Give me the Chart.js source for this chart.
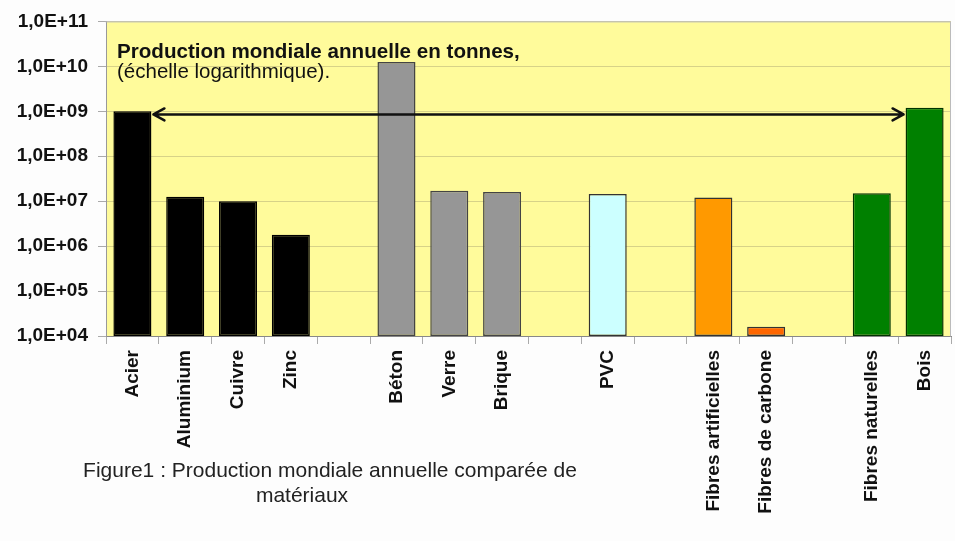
<!DOCTYPE html>
<html>
<head>
<meta charset="utf-8">
<script src="https://cdn.jsdelivr.net/npm/chart.js@4.4.1/dist/chart.umd.min.js"></script>
<style>
  html, body { margin: 0; padding: 0; background: #fdfdfd; }
  #wrap { width: 955px; height: 541px; }
</style>
</head>
<body>
<div id="wrap"><canvas id="chart" width="955" height="541"></canvas></div>
<script>
// categories ('' = empty slot between material groups)
const categories = ['Acier', 'Aluminium', 'Cuivre', 'Zinc', '', 'Béton', 'Verre', 'Brique', '', 'PVC', '',
  'Fibres artificielles', 'Fibres de carbone', '', 'Fibres naturelles', 'Bois'];
// tonnes / year
const production = [1.0e9, 1.25e7, 1.0e7, 1.8e6, null, 1.25e10, 1.7e7, 1.6e7, null, 1.45e7, null,
  1.2e7, 1.6e4, null, 1.5e7, 1.2e9];
const yTicks = [1e4, 1e5, 1e6, 1e7, 1e8, 1e9, 1e10, 1e11];
const arrowLevel = 8.5e8;
const noteTitle = 'Production mondiale annuelle en tonnes,';
const noteSub = '(échelle logarithmique).';
const captionLines = ['Figure1 : Production mondiale annuelle comparée de', 'matériaux'];

const fillColors = ['#000000', '#000000', '#000000', '#000000', null, '#969696', '#969696', '#969696', null,
  '#ccffff', null, '#ff9900', '#ff6600', null, '#008000', '#008000'];
const lineColors = ['#000000', '#000000', '#000000', '#000000', null, '#444444', '#444444', '#444444', null,
  '#333333', null, '#333333', '#333333', null, '#003300', '#003300'];

const FONT = "'Liberation Sans', Arial, sans-serif";

const decor = {
  id: 'decor',
  beforeDraw(chart) {
    const { ctx, chartArea: a } = chart;
    ctx.save();
    ctx.fillStyle = '#fdfdfd';
    ctx.fillRect(0, 0, chart.width, chart.height);
    ctx.fillStyle = '#fffb9b';
    ctx.fillRect(a.left, a.top, a.right - a.left, a.bottom - a.top);
    ctx.restore();
  },
  afterDatasetsDraw(chart) {
    const { ctx, chartArea: a } = chart;
    const y = chart.scales.y.getPixelForValue(arrowLevel);
    const bars = chart.getDatasetMeta(0).data;
    const first = bars[0], last = bars[bars.length - 1];
    const x1 = first.x + first.width / 2 + 2;
    const x2 = last.x - last.width / 2 - 2;
    ctx.save();
    ctx.strokeStyle = '#111';
    ctx.lineWidth = 2.5;
    ctx.lineCap = 'round';
    ctx.lineJoin = 'round';
    ctx.beginPath();
    ctx.moveTo(x1, y); ctx.lineTo(x2, y);
    ctx.moveTo(x1 + 11, y - 6); ctx.lineTo(x1, y); ctx.lineTo(x1 + 11, y + 6);
    ctx.moveTo(x2 - 11, y - 6); ctx.lineTo(x2, y); ctx.lineTo(x2 - 11, y + 6);
    ctx.stroke();

    // plot frame (top / right)
    ctx.strokeStyle = '#bbbbbb';
    ctx.lineWidth = 1;
    ctx.beginPath();
    ctx.moveTo(a.left, a.top + 0.5); ctx.lineTo(a.right - 0.5, a.top + 0.5); ctx.lineTo(a.right - 0.5, a.bottom);
    ctx.stroke();

    ctx.fillStyle = '#111';
    ctx.textAlign = 'left';
    ctx.textBaseline = 'alphabetic';
    ctx.font = 'bold 20.6px ' + FONT;
    ctx.fillText(noteTitle, a.left + 11, a.top + 37);
    ctx.font = '20.5px ' + FONT;
    ctx.fillText(noteSub, a.left + 11, a.top + 57);

    ctx.fillStyle = '#222';
    ctx.font = '21px ' + FONT;
    ctx.textAlign = 'center';
    ctx.fillText(captionLines[0], 330, 477);
    ctx.fillText(captionLines[1], 302, 502);
    ctx.restore();
  }
};

const ctx = document.getElementById('chart').getContext('2d');
const chart = new Chart(ctx, {
  type: 'bar',
  data: {
    labels: categories,
    datasets: [{
      data: production,
      backgroundColor: fillColors,
      borderColor: lineColors,
      borderWidth: 1.5,
      borderSkipped: false,
      barPercentage: 0.72,
      categoryPercentage: 1
    }]
  },
  options: {
    responsive: false,
    devicePixelRatio: 1,
    animation: false,
    layout: { padding: { top: 20, right: 4, left: 0, bottom: 0 } },
    plugins: { legend: { display: false }, tooltip: { enabled: false } },
    scales: {
      x: {
        offset: true,
        grid: { drawOnChartArea: false, offset: true, tickLength: 8, color: '#aaaaaa' },
        border: { color: '#888888' },
        ticks: {
          autoSkip: false, maxRotation: 90, minRotation: 90, padding: 6,
          color: '#111', font: { family: FONT, size: 19, weight: 'bold' }
        },
        afterFit(scale) { scale.height = 205; }
      },
      y: {
        type: 'logarithmic',
        min: 1e4,
        max: 1e11,
        afterBuildTicks(scale) { scale.ticks = yTicks.map(v => ({ value: v, major: true })); },
        grid: { color: 'rgba(140,135,100,0.35)', tickLength: 8, tickColor: '#aaaaaa' },
        border: { color: '#999999' },
        ticks: {
          padding: 10, color: '#111',
          font: { family: FONT, size: 19, weight: 'bold' },
          callback: v => '1,0E+' + String(Math.round(Math.log10(v))).padStart(2, '0')
        },
        afterFit(scale) { scale.width = 106; }
      }
    }
  },
  plugins: [decor]
});
</script>
</body>
</html>
